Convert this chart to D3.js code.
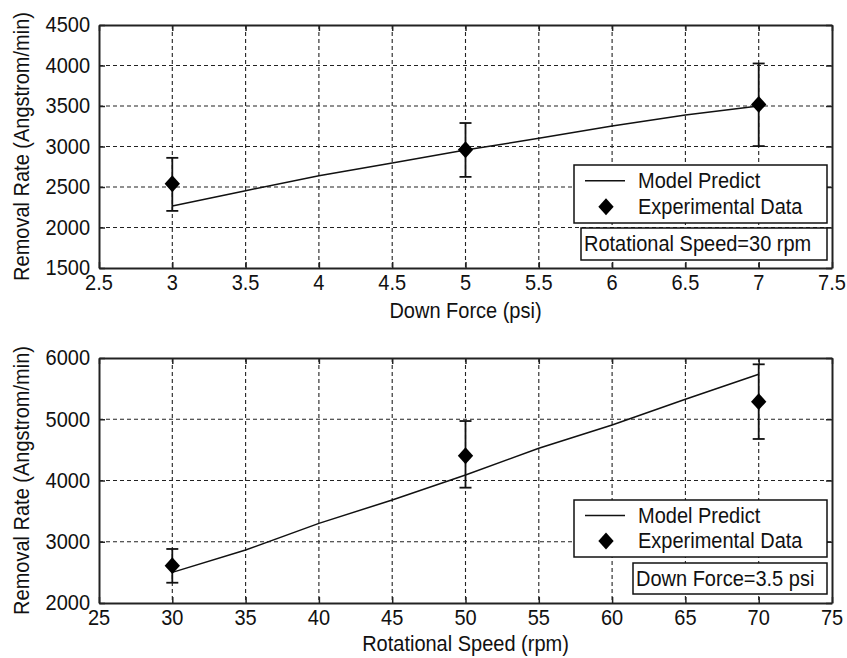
<!DOCTYPE html>
<html>
<head>
<meta charset="utf-8">
<script src="https://cdn.jsdelivr.net/npm/d3@7"></script>
<style>
  body { margin: 0; background: #fff; }
  svg text { font-family: "Liberation Sans", Arial, sans-serif; font-size: 20px; fill: #111; }
</style>
</head>
<body>
<svg id="chart" width="847" height="658"></svg>
<script>
// top panel: removal rate vs down force (30 rpm)
var forceTicks = [2.5, 3, 3.5, 4, 4.5, 5, 5.5, 6, 6.5, 7, 7.5];
var forceRateTicks = [1500, 2000, 2500, 3000, 3500, 4000, 4500];
var forceModelX = [3, 3.5, 4, 4.5, 5, 5.5, 6, 6.5, 7];
var forceModelY = [2265, 2454, 2640, 2796, 2957, 3101, 3253, 3389, 3500];
var forceExpX = [3, 5, 7];
var forceExpY = [2540, 2960, 3520];
var forceExpHi = [2860, 3290, 4025];
var forceExpLo = [2205, 2625, 3005];

// bottom panel: removal rate vs rotational speed (3.5 psi)
var speedTicks = [25, 30, 35, 40, 45, 50, 55, 60, 65, 70, 75];
var speedRateTicks = [2000, 3000, 4000, 5000, 6000];
var speedModelX = [30, 35, 40, 45, 50, 55, 60, 65, 70];
var speedModelY = [2500, 2865, 3300, 3682, 4090, 4526, 4906, 5326, 5734];
var speedExpX = [30, 50, 70];
var speedExpY = [2610, 4405, 5287];
var speedExpHi = [2882, 4971, 5897];
var speedExpLo = [2331, 3883, 4678];

var legendLabels = ["Model Predict", "Experimental Data"];

var svg = d3.select("#chart");
var STRETCH = 1.13; // the original font is a bit taller than it is wide

function label(g, x, y, txt, anchor, rot) {
    return g.append("text")
        .attr("transform", "translate(" + x + "," + y + ")" + (rot ? " rotate(" + rot + ")" : "") + " scale(1," + STRETCH + ")")
        .attr("text-anchor", anchor || "start")
        .attr("dominant-baseline", "central")
        .text(txt);
}

function drawPanel(p) {
    var xs = d3.scaleLinear().domain([p.xTicks[0], p.xTicks[p.xTicks.length - 1]]).range([p.left, p.right]);
    var ys = d3.scaleLinear().domain([p.yTicks[0], p.yTicks[p.yTicks.length - 1]]).range([p.bottom, p.top]);
    var g = svg.append("g");

    // grid
    g.selectAll(".vgrid").data(p.xTicks.slice(1, -1)).enter().append("line")
        .attr("x1", d => xs(d)).attr("x2", d => xs(d))
        .attr("y1", p.top).attr("y2", p.bottom)
        .attr("stroke", "#222").attr("stroke-width", 1.1).attr("stroke-dasharray", "4,3");
    g.selectAll(".hgrid").data(p.yTicks.slice(1, -1)).enter().append("line")
        .attr("y1", d => ys(d)).attr("y2", d => ys(d))
        .attr("x1", p.left).attr("x2", p.right)
        .attr("stroke", "#222").attr("stroke-width", 1.1).attr("stroke-dasharray", "4,3");

    // axes: inward ticks on all four sides, matlab style
    g.append("g").attr("transform", "translate(0," + p.bottom + ")")
        .call(d3.axisBottom(xs).tickValues(p.xTicks).tickSizeInner(-6).tickSizeOuter(0).tickFormat(""));
    g.append("g").attr("transform", "translate(0," + p.top + ")")
        .call(d3.axisTop(xs).tickValues(p.xTicks).tickSizeInner(-6).tickSizeOuter(0).tickFormat(""));
    g.append("g").attr("transform", "translate(" + p.left + ",0)")
        .call(d3.axisLeft(ys).tickValues(p.yTicks).tickSizeInner(-6).tickSizeOuter(0).tickFormat(""));
    g.append("g").attr("transform", "translate(" + p.right + ",0)")
        .call(d3.axisRight(ys).tickValues(p.yTicks).tickSizeInner(-6).tickSizeOuter(0).tickFormat(""));
    g.selectAll(".domain").attr("stroke", "#222").attr("stroke-width", 2);
    g.selectAll(".tick line").attr("stroke", "#222").attr("stroke-width", 1.5);

    // tick labels
    p.xTicks.forEach(t => label(g, xs(t), p.bottom + 15, String(t), "middle"));
    p.yTicks.forEach(t => label(g, p.left - 9, ys(t), String(t), "end"));

    // model line
    var line = d3.line().x(d => xs(d[0])).y(d => ys(d[1]));
    g.append("path").datum(d3.zip(p.modelX, p.modelY))
        .attr("d", line).attr("fill", "none").attr("stroke", "#111").attr("stroke-width", 1.5);

    // error bars
    var pts = p.expX.map((x, i) => ({x: x, y: p.expY[i], hi: p.expHi[i], lo: p.expLo[i]}));
    var eb = g.selectAll(".err").data(pts).enter().append("g");
    eb.append("line").attr("x1", d => xs(d.x)).attr("x2", d => xs(d.x))
        .attr("y1", d => ys(d.hi)).attr("y2", d => ys(d.lo)).attr("stroke", "#111").attr("stroke-width", 1.8);
    eb.append("line").attr("x1", d => xs(d.x) - 6).attr("x2", d => xs(d.x) + 6)
        .attr("y1", d => ys(d.hi)).attr("y2", d => ys(d.hi)).attr("stroke", "#111").attr("stroke-width", 1.8);
    eb.append("line").attr("x1", d => xs(d.x) - 6).attr("x2", d => xs(d.x) + 6)
        .attr("y1", d => ys(d.lo)).attr("y2", d => ys(d.lo)).attr("stroke", "#111").attr("stroke-width", 1.8);
    var diamond = d3.symbol().type(d3.symbolDiamond2).size(150);
    eb.append("path").attr("d", diamond)
        .attr("transform", d => "translate(" + xs(d.x) + "," + ys(d.y) + ") scale(1,1.1)")
        .attr("fill", "#000");

    // axis titles
    label(g, 22, (p.top + p.bottom) / 2, "Removal Rate (Angstrom/min)", "middle", -90);
    label(g, (p.left + p.right) / 2, p.xTitleY, p.xTitle, "middle");

    // legend
    var lg = g.append("g");
    lg.append("rect").attr("x", p.leg[0]).attr("y", p.leg[1]).attr("width", p.leg[2]).attr("height", p.leg[3])
        .attr("fill", "#fff").attr("stroke", "#111").attr("stroke-width", 1.5);
    var r1 = p.leg[1] + p.leg[3] * 0.27, r2 = p.leg[1] + p.leg[3] * 0.72;
    lg.append("line").attr("x1", p.leg[0] + 11).attr("x2", p.leg[0] + 51)
        .attr("y1", r1).attr("y2", r1).attr("stroke", "#111").attr("stroke-width", 1.5);
    lg.append("path").attr("d", diamond)
        .attr("transform", "translate(" + (p.leg[0] + 32) + "," + r2 + ") scale(1,1.1)").attr("fill", "#000");
    legendLabels.forEach((d, i) => label(lg, p.leg[0] + 64, i ? r2 : r1, d));

    // condition note
    g.append("rect").attr("x", p.note[0]).attr("y", p.note[1]).attr("width", p.note[2]).attr("height", p.note[3])
        .attr("fill", "#fff").attr("stroke", "#111").attr("stroke-width", 1.5);
    label(g, p.note[0] + 3, p.note[1] + p.note[3] / 2, p.noteText);
}

drawPanel({
    left: 99, right: 832, top: 25, bottom: 268,
    xTicks: forceTicks, yTicks: forceRateTicks,
    modelX: forceModelX, modelY: forceModelY,
    expX: forceExpX, expY: forceExpY, expHi: forceExpHi, expLo: forceExpLo,
    xTitle: "Down Force (psi)", xTitleY: 311,
    leg: [574, 165, 253, 58], note: [581, 228, 246, 32], noteText: "Rotational Speed=30 rpm"
});

drawPanel({
    left: 99, right: 832, top: 358, bottom: 603,
    xTicks: speedTicks, yTicks: speedRateTicks,
    modelX: speedModelX, modelY: speedModelY,
    expX: speedExpX, expY: speedExpY, expHi: speedExpHi, expLo: speedExpLo,
    xTitle: "Rotational Speed (rpm)", xTitleY: 644,
    leg: [574, 500, 253, 57], note: [633, 563, 194, 31], noteText: "Down Force=3.5 psi"
});
</script>
</body>
</html>
